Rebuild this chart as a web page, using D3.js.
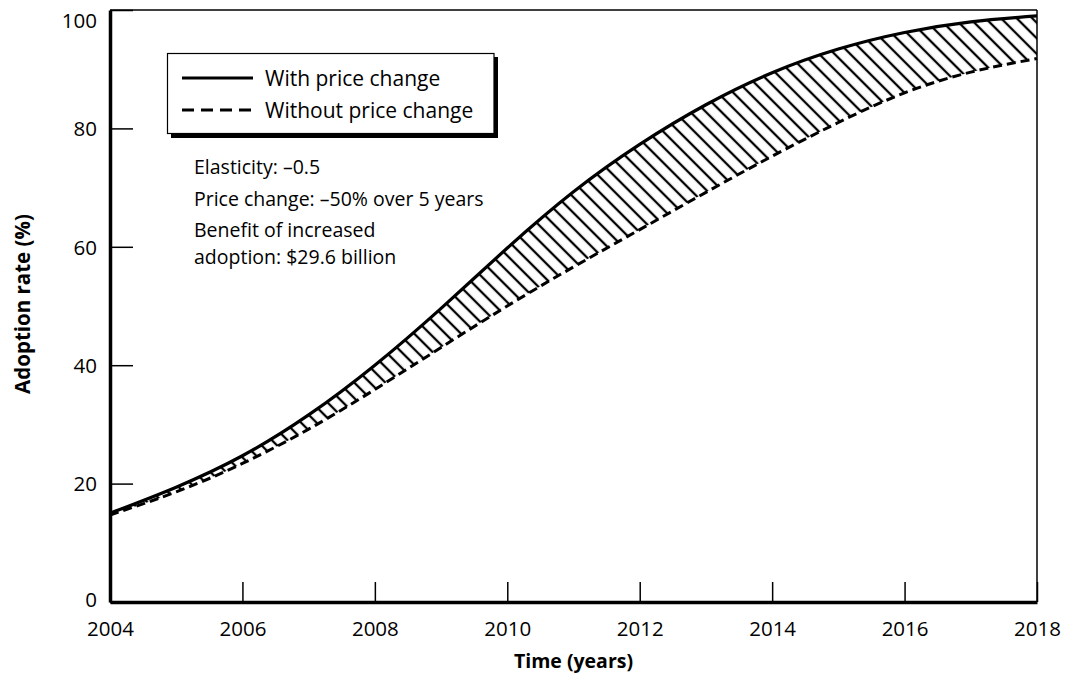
<!DOCTYPE html>
<html>
<head>
<meta charset="utf-8">
<script src="https://cdn.jsdelivr.net/npm/d3@7"></script>
<style>
  html, body { margin: 0; padding: 0; background: #fff; }
  svg { display: block; }
  text { font-family: "Open Sans", "Noto Sans", sans-serif; fill: #000; }
</style>
</head>
<body>
<svg id="chart" width="1067" height="679"></svg>
<script>
// ---- data ----
const years = [2004, 2005, 2006, 2007, 2008, 2009, 2010, 2011, 2012, 2013, 2014, 2015, 2016, 2017, 2018];
const withPriceChange    = [15.0, 19.4, 24.7, 31.6, 40.0, 49.6, 59.8, 69.3, 77.3, 84.0, 89.4, 93.4, 96.2, 98.0, 99.0];
const withoutPriceChange = [14.7, 18.6, 23.4, 29.2, 35.9, 43.0, 50.0, 56.6, 62.9, 69.2, 75.3, 81.0, 86.0, 89.5, 91.8];
const xTicks = [2004, 2006, 2008, 2010, 2012, 2014, 2016, 2018];
const yTicks = [0, 20, 40, 60, 80, 100];
const legendLabels = ["With price change", "Without price change"];
const notes = [["Elasticity: \u20130.5"], ["Price change: \u201350% over 5 years"], ["Benefit of increased", "adoption: $29.6 billion"]];
const xTitle = "Time (years)";
const yTitle = "Adoption rate (%)";

// ---- layout ----
const svg = d3.select("#chart");
const L = 110, R = 1037, T = 10, B = 602;
const x = d3.scaleLinear().domain([2004, 2018]).range([L, R]);
const y = d3.scaleLinear().domain([0, 100]).range([B, T]);

const series = years.map((yr, i) => ({ yr, a: withPriceChange[i], b: withoutPriceChange[i] }));

// hatch pattern
const defs = svg.append("defs");
const pat = defs.append("pattern")
  .attr("id", "hatch")
  .attr("patternUnits", "userSpaceOnUse")
  .attr("width", 11).attr("height", 11)
  .attr("patternTransform", "rotate(-45)");
pat.append("line")
  .attr("x1", 2).attr("y1", -1).attr("x2", 2).attr("y2", 12)
  .attr("stroke", "#000").attr("stroke-width", 2.3);

const curve = d3.curveNatural;

// area between curves
svg.append("path")
  .datum(series)
  .attr("fill", "url(#hatch)")
  .attr("d", d3.area().curve(curve).x(d => x(d.yr)).y0(d => y(d.b)).y1(d => y(d.a)));

// frame: top and right thin borders
svg.append("line").attr("x1", L).attr("x2", R).attr("y1", T).attr("y2", T)
  .attr("stroke", "#000").attr("stroke-width", 1.5);
svg.append("line").attr("x1", R).attr("x2", R).attr("y1", T).attr("y2", B)
  .attr("stroke", "#000").attr("stroke-width", 1.5);

// axes
const yAxis = d3.axisLeft(y).tickValues(yTicks).tickSizeInner(-23).tickSizeOuter(0).tickPadding(13);
const gy = svg.append("g").attr("transform", `translate(${L},0)`).call(yAxis);
gy.select(".domain").attr("stroke-width", 3.5);
gy.selectAll(".tick line").attr("stroke-width", 1.5);
gy.selectAll(".tick text").style("font-size", "20.5px").attr("fill", "#000")
  .attr("dy", d => d === 100 ? "0.85em" : (d === 0 ? "0.22em" : "0.36em"));

const xAxis = d3.axisBottom(x).tickValues(xTicks).tickFormat(d3.format("d"))
  .tickSizeInner(-20).tickSizeOuter(0).tickPadding(19);
const gx = svg.append("g").attr("transform", `translate(0,${B})`).call(xAxis);
gx.select(".domain").attr("stroke-width", 3.5);
gx.selectAll(".tick line").attr("stroke-width", 1.5);
gx.selectAll(".tick text").style("font-size", "20.5px").attr("fill", "#000");

// lines
svg.append("path").datum(series)
  .attr("fill", "none").attr("stroke", "#000").attr("stroke-width", 3)
  .attr("stroke-dasharray", "9,5")
  .attr("d", d3.line().curve(curve).x(d => x(d.yr)).y(d => y(d.b)));
svg.append("path").datum(series)
  .attr("fill", "none").attr("stroke", "#000").attr("stroke-width", 3.2)
  .attr("d", d3.line().curve(curve).x(d => x(d.yr)).y(d => y(d.a)));

// legend
const lg = svg.append("g");
lg.append("rect").attr("x", 171).attr("y", 57).attr("width", 327).attr("height", 81).attr("fill", "#000");
lg.append("rect").attr("x", 167.5).attr("y", 53.5).attr("width", 326.5).attr("height", 80)
  .attr("fill", "#fff").attr("stroke", "#000").attr("stroke-width", 1.2);
legendLabels.forEach((lab, i) => {
  const ly = 78 + i * 32;
  lg.append("line").attr("x1", 182).attr("x2", 253).attr("y1", ly).attr("y2", ly)
    .attr("stroke", "#000").attr("stroke-width", 3)
    .attr("stroke-dasharray", i === 1 ? "12,7" : null);
  lg.append("text").attr("x", 265).attr("y", ly + 7.5).style("font-size", "21px").text(lab);
});

// notes
const noteY = [174, 206, 237];
notes.forEach((lines, i) => {
  const t = svg.append("text").attr("x", 194).attr("y", noteY[i]).style("font-size", "19.5px");
  lines.forEach((ln, j) => {
    t.append("tspan").attr("x", 194).attr("dy", j === 0 ? 0 : 26.6).text(ln);
  });
});

// axis titles
svg.append("text").attr("x", (L + R) / 2).attr("y", 668).attr("text-anchor", "middle")
  .style("font-size", "19.5px").style("font-weight", "bold").text(xTitle);
svg.append("text").attr("transform", `translate(30,304) rotate(-90)`).attr("text-anchor", "middle")
  .style("font-size", "20.5px").style("font-weight", "bold").text(yTitle);
</script>
</body>
</html>
